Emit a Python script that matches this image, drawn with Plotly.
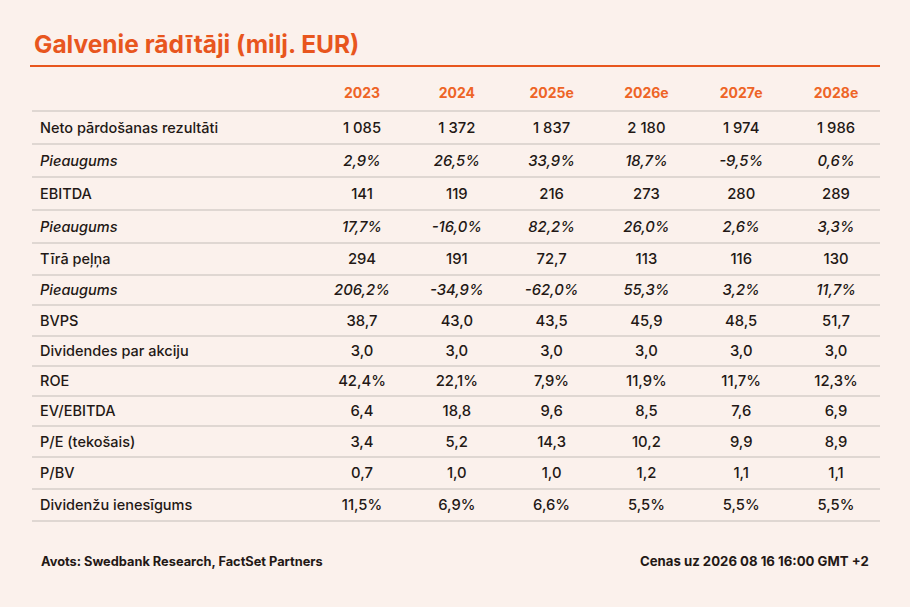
import plotly.graph_objects as go

# ---------------- data ----------------
years = ["2023", "2024", "2025e", "2026e", "2027e", "2028e"]
row_labels = [
    "Neto pārdošanas rezultāti", "Pieaugums", "EBITDA", "Pieaugums",
    "Tīrā peļņa", "Pieaugums", "BVPS", "Dividendes par akciju", "ROE",
    "EV/EBITDA", "P/E (tekošais)", "P/BV", "Dividenžu ienesīgums",
]
neto_sales = [1085, 1372, 1837, 2180, 1974, 1986]
neto_sales_growth = [2.9, 26.5, 33.9, 18.7, -9.5, 0.6]
ebitda = [141, 119, 216, 273, 280, 289]
ebitda_growth = [17.7, -16.0, 82.2, 26.0, 2.6, 3.3]
net_profit = [294, 191, 72.7, 113, 116, 130]
net_profit_growth = [206.2, -34.9, -62.0, 55.3, 3.2, 11.7]
bvps = [38.7, 43.0, 43.5, 45.9, 48.5, 51.7]
dps = [3.0, 3.0, 3.0, 3.0, 3.0, 3.0]
roe = [42.4, 22.1, 7.9, 11.9, 11.7, 12.3]
ev_ebitda = [6.4, 18.8, 9.6, 8.5, 7.6, 6.9]
pe = [3.4, 5.2, 14.3, 10.2, 9.9, 8.9]
pbv = [0.7, 1.0, 1.0, 1.2, 1.1, 1.1]
div_yield = [11.5, 6.9, 6.6, 5.5, 5.5, 5.5]

row_values = [neto_sales, neto_sales_growth, ebitda, ebitda_growth, net_profit,
              net_profit_growth, bvps, dps, roe, ev_ebitda, pe, pbv, div_yield]
row_kinds = ["abs", "pct", "abs", "pct", "abs", "pct", "num", "num", "pct",
             "num", "num", "num", "pct"]
row_italic = [False, True, False, True, False, True, False, False, False,
              False, False, False, False]

title_text = "Galvenie rādītāji (milj. EUR)"
source_text = "Avots: Swedbank Research, FactSet Partners"
price_text = "Cenas uz 2026 08 16 16:00 GMT +2"

# ---------------- layout constants ----------------
W, H = 910, 607
BG = "#FBF1EC"
ORANGE = "#E8561E"
HEAD_ORANGE = "#EE6426"
TEXT = "#231815"
GRID = "#D6CECA"
FONT = "Inter"

table_left, table_right = 32, 880
label_x = 40
first_col_x, col_step = 362, 94.8
header_line_y = 111
header_text_y = 94.5
text_dy = 1.5
row_heights = [33, 33, 33, 33, 32, 30, 31, 30, 30, 30, 31, 32, 32]


def fmt(v, kind):
    if kind == "abs" and abs(v) >= 100:
        return f"{int(round(v)):,}".replace(",", "\u00a0")
    s = f"{v:.1f}".replace(".", ",")
    if kind == "pct":
        s += "%"
    return s


bounds = [header_line_y]
for h in row_heights:
    bounds.append(bounds[-1] + h)
centers = [(bounds[i] + bounds[i + 1]) / 2 + text_dy for i in range(len(row_heights))]
col_x = [first_col_x + i * col_step for i in range(len(years))]

fig = go.Figure()

fig.add_trace(go.Scatter(
    x=col_x, y=[header_text_y] * len(years), mode="text", text=years,
    textposition="middle center",
    textfont=dict(family=FONT, size=14, color=HEAD_ORANGE, weight=700),
    hoverinfo="skip", showlegend=False))

fig.add_trace(go.Scatter(
    x=[label_x] * len(row_labels), y=centers, mode="text",
    text=[f"<i>{l}</i>" if it else l for l, it in zip(row_labels, row_italic)],
    textposition="middle right",
    textfont=dict(family=FONT, size=14.5, color=TEXT, weight=500),
    hoverinfo="skip", showlegend=False))

vx, vy, vt = [], [], []
for r, (vals, kind, it) in enumerate(zip(row_values, row_kinds, row_italic)):
    for c, v in enumerate(vals):
        s = fmt(v, kind)
        vx.append(col_x[c])
        vy.append(centers[r])
        vt.append(f"<i>{s}</i>" if it else s)
fig.add_trace(go.Scatter(
    x=vx, y=vy, mode="text", text=vt, textposition="middle center",
    textfont=dict(family=FONT, size=14.8, color=TEXT, weight=500),
    hoverinfo="skip", showlegend=False))

shapes = [dict(type="line", xref="x", yref="y", x0=30, x1=table_right,
               y0=66, y1=66, line=dict(color=ORANGE, width=2))]
for b in bounds:
    shapes.append(dict(type="line", xref="x", yref="y", x0=table_left,
                       x1=table_right, y0=b, y1=b,
                       line=dict(color=GRID, width=1.3)))

annotations = [
    dict(text=title_text, x=32, y=44, xref="x", yref="y",
         xanchor="left", yanchor="middle", showarrow=False,
         font=dict(family=FONT, size=24.5, color=ORANGE, weight=700)),
    dict(text=source_text, x=39, y=561, xref="x", yref="y",
         xanchor="left", yanchor="middle", showarrow=False,
         font=dict(family=FONT, size=12.8, color=TEXT, weight=700)),
    dict(text=price_text, x=871, y=561, xref="x", yref="y",
         xanchor="right", yanchor="middle", showarrow=False,
         font=dict(family=FONT, size=13.2, color=TEXT, weight=700)),
]

fig.update_layout(
    width=W, height=H, margin=dict(l=0, r=0, t=0, b=0),
    paper_bgcolor=BG, plot_bgcolor=BG,
    xaxis=dict(range=[0, W], visible=False, fixedrange=True),
    yaxis=dict(range=[H, 0], visible=False, fixedrange=True),
    shapes=shapes, annotations=annotations,
)

fig.write_html("out.html", config={"displayModeBar": False})

# remove the browser's default page margin so the figure fills the window
with open("out.html", encoding="utf-8") as f:
    html = f.read()
html = html.replace("<head>", "<head><style>html,body{margin:0;padding:0;background:%s;overflow:hidden;}</style>" % BG, 1)
with open("out.html", "w", encoding="utf-8") as f:
    f.write(html)
